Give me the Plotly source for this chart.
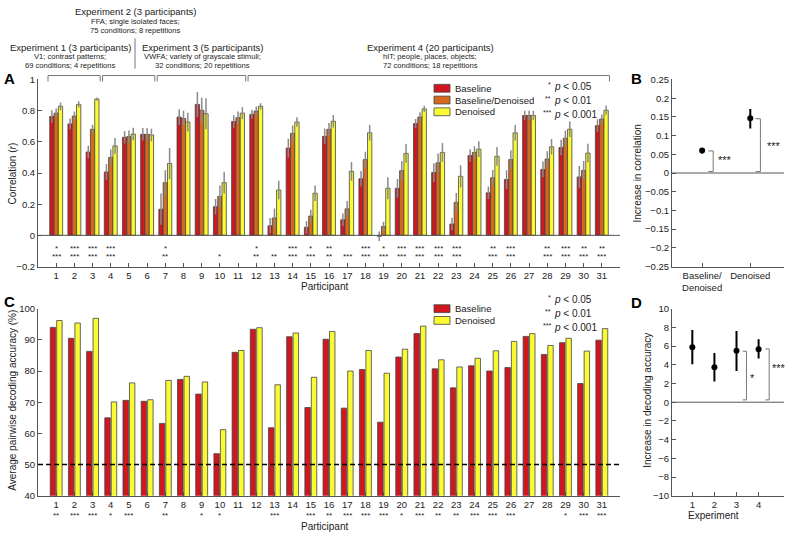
import plotly.graph_objects as go

W, H = 789, 537
FONT = "Liberation Sans, Arial, Helvetica, sans-serif"

# ── Data ──────────────────────────────────────────────────────────────────────
participants = list(range(1, 32))
experiments = [(1, 3), (4, 6), (7, 11), (12, 31)]  # participant ranges

corr_baseline = [0.763, 0.715, 0.535, 0.407, 0.629, 0.648, 0.168, 0.759, 0.840, 0.184,
                 0.730, 0.776, 0.062, 0.560, 0.052, 0.635, 0.100, 0.363, -0.006, 0.302,
                 0.717, 0.403, 0.073, 0.512, 0.273, 0.358, 0.769, 0.423, 0.564, 0.375, 0.704]
corr_bd = [0.784, 0.765, 0.680, 0.500, 0.633, 0.648, 0.338, 0.750, 0.803, 0.250,
           0.755, 0.797, 0.112, 0.654, 0.124, 0.680, 0.170, 0.486, 0.057, 0.415,
           0.759, 0.465, 0.212, 0.532, 0.369, 0.486, 0.769, 0.490, 0.623, 0.417, 0.746]
corr_denoised = [0.828, 0.840, 0.874, 0.574, 0.650, 0.644, 0.461, 0.727, 0.780, 0.338,
                 0.784, 0.828, 0.291, 0.727, 0.270, 0.732, 0.411, 0.658, 0.302, 0.526,
                 0.811, 0.532, 0.379, 0.553, 0.507, 0.658, 0.769, 0.568, 0.681, 0.528, 0.803]
err_baseline = [0.04, 0.035, 0.04, 0.05, 0.04, 0.04, 0.10, 0.05, 0.08, 0.05,
                0.04, 0.03, 0.05, 0.06, 0.04, 0.05, 0.04, 0.05, 0.03, 0.06,
                0.03, 0.06, 0.04, 0.04, 0.04, 0.06, 0.03, 0.05, 0.05, 0.07, 0.04]
err_bd = [0.03, 0.03, 0.03, 0.05, 0.04, 0.04, 0.08, 0.05, 0.08, 0.07,
          0.04, 0.03, 0.06, 0.05, 0.04, 0.04, 0.05, 0.05, 0.03, 0.06,
          0.03, 0.06, 0.06, 0.04, 0.05, 0.06, 0.03, 0.05, 0.05, 0.06, 0.03]
err_denoised = [0.025, 0.02, 0.01, 0.05, 0.04, 0.04, 0.10, 0.06, 0.10, 0.07,
                0.04, 0.02, 0.06, 0.03, 0.05, 0.04, 0.06, 0.05, 0.07, 0.06,
                0.02, 0.06, 0.07, 0.05, 0.06, 0.05, 0.03, 0.05, 0.05, 0.06, 0.03]
sig_bd = ["*", "***", "***", "***", "", "", "*", "", "", "", "", "*", "", "***", "*", "**",
          "", "***", "*", "***", "***", "***", "***", "", "**", "***", "", "**", "***", "**", "**"]
sig_dn = ["***", "***", "***", "***", "", "", "**", "", "", "*", "", "**", "**", "***", "***", "**",
          "***", "***", "***", "***", "***", "***", "***", "", "***", "***", "", "***", "***", "***", "***"]

acc_baseline = [94.0, 90.5, 86.3, 65.0, 70.6, 70.3, 63.2, 77.3, 72.6, 53.5,
                86.0, 93.4, 61.8, 91.0, 68.3, 90.2, 68.1, 80.5, 63.6, 84.5,
                92.0, 80.7, 74.6, 81.7, 80.0, 81.1, 91.1, 85.3, 89.1, 76.0, 89.9]
acc_denoised = [96.2, 95.4, 96.9, 70.1, 76.2, 70.8, 77.0, 78.3, 76.5, 61.2,
                86.6, 93.9, 75.6, 92.2, 78.0, 92.7, 80.0, 86.6, 79.3, 87.0,
                94.4, 83.6, 81.3, 84.1, 86.5, 89.5, 92.0, 88.2, 90.5, 86.4, 93.6]
sig_acc = ["**", "***", "***", "*", "***", "", "**", "", "*", "*", "", "", "***", "", "***", "**",
           "***", "***", "***", "*", "***", "**", "**", "***", "***", "***", "", "", "*", "***", "***"]

inc_corr_labels = ["Baseline/<br>Denoised", "Denoised"]
inc_corr = [0.060, 0.146]
inc_corr_hi = [0.007, 0.025]
inc_corr_lo = [0.008, 0.027]

exp_ids = [1, 2, 3, 4]
inc_acc = [5.88, 3.75, 5.5, 5.67]
inc_acc_hi = [1.85, 1.5, 2.1, 1.05]
inc_acc_lo = [1.82, 1.53, 2.17, 1.01]

RED, ORANGE, YELLOW = "#d0161e", "#d4691f", "#fafa32"
EDGE, AXC, TXT = "#444444", "#555555", "#222222"
TICK = 9.5


def px(p):
    return p / W


def py(p):
    return 1 - p / H


fig = go.Figure()

# ── A: correlation bars ───────────────────────────────────────────────────────
for name, vals, errs, col in [("Baseline", corr_baseline, err_baseline, RED),
                              ("Baseline/Denoised", corr_bd, err_bd, ORANGE),
                              ("Denoised", corr_denoised, err_denoised, YELLOW)]:
    fig.add_trace(go.Bar(
        x=participants, y=vals, name=name, marker=dict(color=col, line=dict(color=EDGE, width=0.8)),
        error_y=dict(type="data", array=errs, color="#8a8a8a", thickness=1.5, width=0),
        xaxis="x", yaxis="y", offsetgroup=name, showlegend=False,
    ))

# ── C: decoding accuracy bars ────────────────────────────────────────────────
for name, vals, col in [("Baseline", acc_baseline, RED), ("Denoised", acc_denoised, YELLOW)]:
    fig.add_trace(go.Bar(
        x=participants, y=vals, name=name, marker=dict(color=col, line=dict(color=EDGE, width=0.8)),
        xaxis="x3", yaxis="y3", showlegend=False, width=0.3,
    ))

# ── B / D: increase points ───────────────────────────────────────────────────
fig.add_trace(go.Scatter(
    x=[1, 2], y=inc_corr, mode="markers", marker=dict(color="black", size=6),
    error_y=dict(type="data", array=inc_corr_hi, arrayminus=inc_corr_lo, color="black", thickness=2, width=0),
    xaxis="x2", yaxis="y2", showlegend=False,
))
fig.add_trace(go.Scatter(
    x=exp_ids, y=inc_acc, mode="markers", marker=dict(color="black", size=6),
    error_y=dict(type="data", array=inc_acc_hi, arrayminus=inc_acc_lo, color="black", thickness=2, width=0),
    xaxis="x4", yaxis="y4", showlegend=False,
))

axis_common = dict(showline=True, linecolor=AXC, linewidth=1, ticks="inside", ticklen=4,
                   tickcolor=AXC, showgrid=False, zeroline=False,
                   tickfont=dict(family=FONT, size=TICK, color=TXT))

yA = [py(266), py(75)]
yC = [py(500), py(309)]
xAC = [px(38), px(620)]
xBD = [px(672), px(784)]

fig.update_layout(
    width=W, height=H, margin=dict(l=0, r=0, t=0, b=0),
    paper_bgcolor="white", plot_bgcolor="white",
    barmode="group", bargap=0.29, bargroupgap=0,
    font=dict(family=FONT, size=10, color=TXT),
    xaxis=dict(axis_common, domain=xAC, range=[0, 32], tickvals=participants, anchor="y"),
    yaxis=dict(axis_common, domain=yA, range=[-0.2, 1], tickvals=[-0.2, 0, 0.2, 0.4, 0.6, 0.8, 1],
               ticktext=["−0.2", "0", "0.2", "0.4", "0.6", "0.8", "1"], anchor="x"),
    xaxis2=dict(axis_common, domain=xBD, range=[0.375, 2.7], tickvals=[1, 2],
                ticktext=inc_corr_labels, anchor="y2"),
    yaxis2=dict(axis_common, domain=yA, range=[-0.25, 0.25],
                tickvals=[-0.25, -0.2, -0.15, -0.1, -0.05, 0, 0.05, 0.1, 0.15, 0.2, 0.25],
                ticktext=["−0.25", "−0.2", "−0.15", "−0.1", "−0.05", "0", "0.05", "0.1", "0.15", "0.2", "0.25"],
                anchor="x2"),
    xaxis3=dict(axis_common, domain=xAC, range=[0, 32], tickvals=participants, anchor="y3"),
    yaxis3=dict(axis_common, domain=yC, range=[40, 100], tickvals=list(range(40, 101, 10)), anchor="x3"),
    xaxis4=dict(axis_common, domain=xBD, range=[0.08, 5.15], tickvals=exp_ids, anchor="y4"),
    yaxis4=dict(axis_common, domain=yC, range=[-10, 10], tickvals=list(range(-10, 11, 2)),
                ticktext=[str(v).replace("-", "−") for v in range(-10, 11, 2)], anchor="x4"),
)

shapes = []
ann = []

# zero lines and chance line
shapes.append(dict(type="line", xref="x", yref="y", x0=0, x1=32, y0=0, y1=0, line=dict(color=AXC, width=1)))
shapes.append(dict(type="line", xref="x2", yref="y2", x0=0.375, x1=2.7, y0=0, y1=0, line=dict(color=AXC, width=1)))
shapes.append(dict(type="line", xref="x4", yref="y4", x0=0.08, x1=5.15, y0=0, y1=0, line=dict(color=AXC, width=1)))
shapes.append(dict(type="line", xref="x3", yref="y3", x0=0, x1=32, y0=50, y1=50,
                   line=dict(color="black", width=1.5, dash="5px,3px")))

# experiment brackets above A
for a, b in experiments:
    x0, x1 = a - 0.45, b + 0.42
    shapes.append(dict(type="path", xref="x", yref="paper",
                       path=f"M {x0},{py(77)} L {x0},{py(71)} L {x1},{py(71)} L {x1},{py(77)}",
                       line=dict(color="#777777", width=1)))
shapes.append(dict(type="line", xref="paper", yref="paper", x0=px(135), x1=px(135), y0=py(33), y1=py(64),
                   line=dict(color="#777777", width=1)))

# B brackets
for xb, top, lab, lx, ly in [(1.23, 0.059, "***", 716, 0.036), (2.21, 0.145, "***", 765, 0.071)]:
    shapes.append(dict(type="path", xref="x2", yref="y2",
                       path=f"M {xb - 0.1},{top} L {xb},{top} L {xb},0.004 L {xb - 0.1},0.004",
                       line=dict(color="#777777", width=1)))
    ann.append(dict(xref="paper", yref="y2", x=px(lx), y=ly, text=lab, showarrow=False,
                    font=dict(size=11), xanchor="left"))

# D brackets
for xb, top, lab, lx, ly in [(3.45, 5.45, "*", 748, 2.6), (4.48, 5.7, "***", 770, 3.7)]:
    shapes.append(dict(type="path", xref="x4", yref="y4",
                       path=f"M {xb - 0.17},{top} L {xb},{top} L {xb},0.25 L {xb - 0.17},0.25",
                       line=dict(color="#777777", width=1)))
    ann.append(dict(xref="paper", yref="y4", x=px(lx), y=ly, text=lab,
                    showarrow=False, font=dict(size=11), xanchor="left"))

# experiment headings
heads = [
    (70, 42, "Experiment 1 (3 participants)", "V1; contrast patterns;", "69 conditions; 4 repetitions"),
    (135.5, 6, "Experiment 2 (3 participants)", "FFA; single isolated faces;", "75 conditions; 8 repetitions"),
    (202, 42, "Experiment 3 (5 participants)", "VWFA; variety of grayscale stimuli;", "32 conditions; 20 repetitions"),
    (430, 42, "Experiment 4 (20 participants)", "hIT; people, places, objects;", "72 conditions; 18 repetitions"),
]
for cx, ty, t1, t2, t3 in heads:
    ann.append(dict(xref="paper", yref="paper", x=px(cx), y=py(ty), text=t1, showarrow=False,
                    font=dict(size=9.5), xanchor="center", yanchor="middle"))
    ann.append(dict(xref="paper", yref="paper", x=px(cx), y=py(ty + 9.5), text=t2, showarrow=False,
                    font=dict(size=7.6), xanchor="center", yanchor="middle"))
    ann.append(dict(xref="paper", yref="paper", x=px(cx), y=py(ty + 19), text=t3, showarrow=False,
                    font=dict(size=7.6), xanchor="center", yanchor="middle"))

# panel letters
for lab, lx, ly in [("A", 9, 74), ("B", 636, 74), ("C", 9, 302), ("D", 636, 303)]:
    ann.append(dict(xref="paper", yref="paper", x=px(lx), y=py(ly), text=f"<b>{lab}</b>", showarrow=False,
                    font=dict(size=15, color="black"), xanchor="center", yanchor="middle"))

# axis titles
titles = [
    (12, 171, "Correlation (<i>r</i>)", -90),
    (13, 403, "Average pairwise decoding accuracy (%)", -90),
    (637, 171, "Increase in correlation", -90),
    (648, 403, "Increase in decoding accuracy", -90),
    (324, 286, "Participant", 0),
    (324, 531, "Participant", 0),
    (713, 520, "Experiment", 0),
]
for tx, ty, t, ang in titles:
    ann.append(dict(xref="paper", yref="paper", x=px(tx), y=py(ty), text=t, showarrow=False, textangle=ang,
                    font=dict(size=10), xanchor="center", yanchor="middle"))

# significance stars
for p, s1, s2, s3 in zip(participants, sig_bd, sig_dn, sig_acc):
    if s1:
        ann.append(dict(xref="x", yref="y", x=p, y=-0.083, text=s1, showarrow=False, font=dict(size=8)))
    if s2:
        ann.append(dict(xref="x", yref="y", x=p, y=-0.133, text=s2, showarrow=False, font=dict(size=8)))
    if s3:
        ann.append(dict(xref="x3", yref="paper", x=p, y=py(520), text=s3, showarrow=False,
                        font=dict(size=8), yanchor="middle"))

# p-value keys
for top in (82, 300):
    for i, (st, txt) in enumerate([("*", "<i>p</i> < 0.05"), ("**", "<i>p</i> < 0.01"), ("***", "<i>p</i> < 0.001")]):
        yy = top + i * 14.3
        ann.append(dict(xref="paper", yref="paper", x=px(553), y=py(yy - 2), text=st, showarrow=False,
                        font=dict(size=7), xanchor="right", yanchor="middle"))
        ann.append(dict(xref="paper", yref="paper", x=px(552), y=py(yy), text=txt, showarrow=False,
                        font=dict(size=10), xanchor="left", yanchor="middle"))

# manual legends
for top, items in [(80, [("Baseline", RED), ("Baseline/Denoised", ORANGE), ("Denoised", YELLOW)]),
                   (305, [("Baseline", RED), ("Denoised", YELLOW)])]:
    for i, (name, col) in enumerate(items):
        y0 = top + i * 12
        shapes.append(dict(type="rect", xref="paper", yref="paper", x0=px(434), x1=px(450), y0=py(y0 + 8), y1=py(y0),
                           fillcolor=col, line=dict(color=EDGE, width=0.8)))
        ann.append(dict(xref="paper", yref="paper", x=px(453), y=py(y0 + 4), text=name, showarrow=False,
                        font=dict(size=9.5), xanchor="left", yanchor="middle"))

fig.update_layout(shapes=shapes, annotations=ann)
fig.write_html("out.html", config={"displayModeBar": False},
               post_script="document.body.style.margin='0';")
